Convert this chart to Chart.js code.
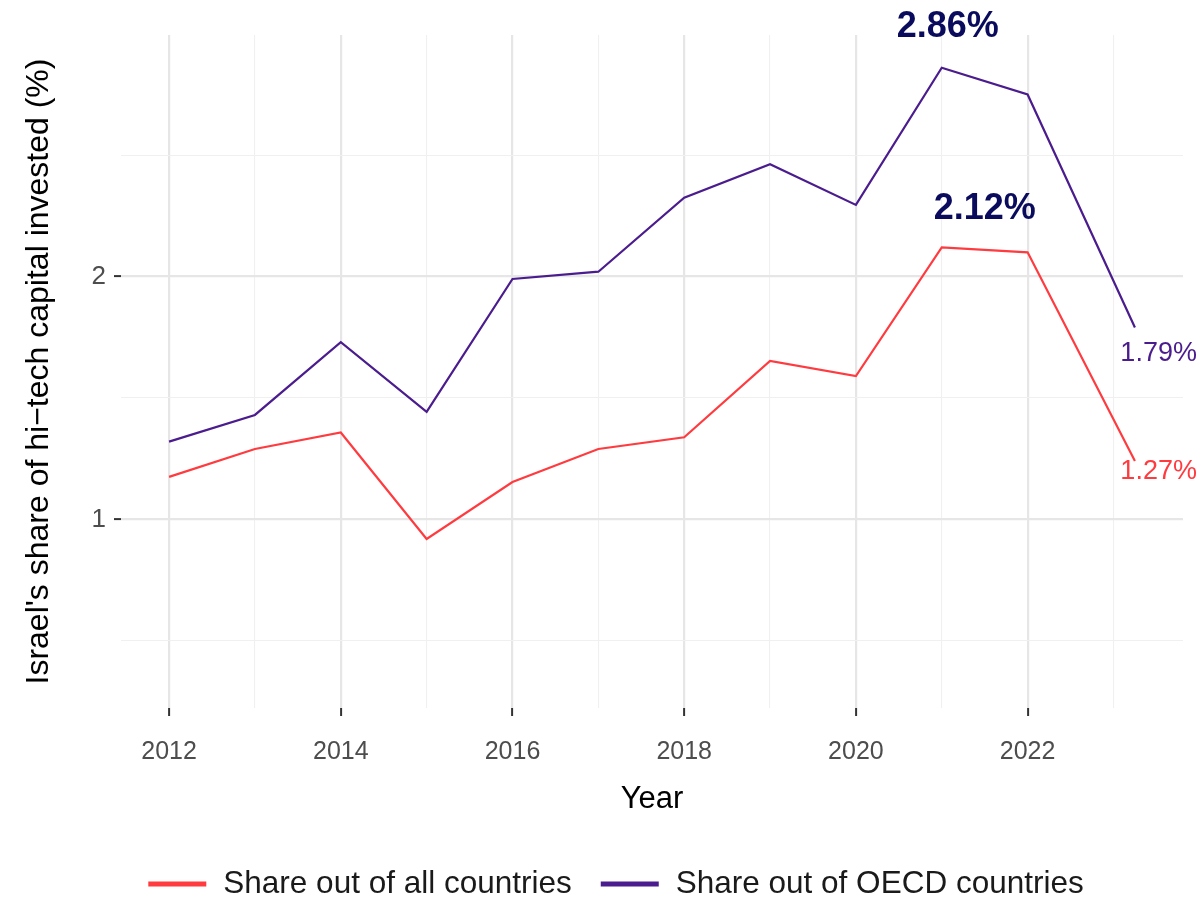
<!DOCTYPE html>
<html>
<head>
<meta charset="utf-8">
<script src="https://cdn.jsdelivr.net/npm/chart.js@4.4.1/dist/chart.umd.min.js"></script>
<style>
html,body{margin:0;padding:0;background:#ffffff;}
#wrap{width:1199px;height:898px;}
</style>
</head>
<body>
<div id="wrap"><canvas id="c" width="1199" height="898"></canvas></div>
<script>
// ---- data ----
const years = [2012, 2013, 2014, 2015, 2016, 2017, 2018, 2019, 2020, 2021, 2022, 2023.25];
const shareAll = [1.175, 1.29, 1.358, 0.919, 1.154, 1.29, 1.338, 1.653, 1.59, 2.12, 2.10, 1.24];
const shareOECD = [1.32, 1.43, 1.73, 1.443, 1.99, 2.02, 2.325, 2.463, 2.295, 2.86, 2.75, 1.79];
const seriesNames = ['Share out of all countries', 'Share out of OECD countries'];
const xTicks = [2012, 2013, 2014, 2015, 2016, 2017, 2018, 2019, 2020, 2021, 2022, 2023];
const xTickLabels = ['2012', '', '2014', '', '2016', '', '2018', '', '2020', '', '2022', ''];
const yTicks = [0.5, 1, 1.5, 2, 2.5];
const yTickLabels = ['', '1', '', '2', ''];
const peakLabels = ['2.12%', '2.86%'];
const endLabels = ['1.27%', '1.79%'];
const xTitle = 'Year';
const yTitle = "Israel's share of hi\u2212tech capital invested (%)";

// ---- style ----
const FONT = "'Liberation Sans', Arial, sans-serif";
const RED = '#ff3b3f';
const PURPLE = '#4b1c8e';
const NAVY = '#0b0b5e';

const annotationPlugin = {
  id: 'annot',
  afterDatasetsDraw(chart) {
    const ctx = chart.ctx;
    const xs = chart.scales.x, ys = chart.scales.y;
    const pk = 9, last = years.length - 1;
    ctx.save();
    ctx.textBaseline = 'middle';
    ctx.textAlign = 'center';
    ctx.fillStyle = NAVY;
    ctx.font = 'bold 36px ' + FONT;
    ctx.fillText(peakLabels[1], xs.getPixelForValue(years[pk]) + 6, ys.getPixelForValue(shareOECD[pk]) - 41);
    const midX = (xs.getPixelForValue(years[pk]) + xs.getPixelForValue(years[pk + 1])) / 2;
    ctx.fillText(peakLabels[0], midX, ys.getPixelForValue(shareAll[pk]) - 38);
    ctx.font = '27px ' + FONT;
    ctx.textAlign = 'right';
    const ex = xs.getPixelForValue(years[last]) + 62;
    ctx.fillStyle = PURPLE;
    ctx.fillText(endLabels[1], ex, ys.getPixelForValue(shareOECD[last]) + 26);
    ctx.fillStyle = RED;
    ctx.fillText(endLabels[0], ex, ys.getPixelForValue(shareAll[last]) + 10);
    ctx.restore();
  }
};

const legendPlugin = {
  id: 'customLegend',
  afterDraw(chart) {
    const ctx = chart.ctx;
    const ds = chart.data.datasets;
    ctx.save();
    ctx.font = '31.5px ' + FONT;
    const lineLen = 58, gapLT = 17, gapItem = 29;
    const widths = ds.map(d => ctx.measureText(d.label).width);
    let total = 0;
    widths.forEach((w, i) => { total += lineLen + gapLT + w + (i < widths.length - 1 ? gapItem : 0); });
    let x = 616 - total / 2;
    const y = 884;
    ctx.textBaseline = 'middle';
    ctx.textAlign = 'left';
    ds.forEach((d, i) => {
      ctx.strokeStyle = d.borderColor;
      ctx.lineWidth = 5;
      ctx.beginPath();
      ctx.moveTo(x, y);
      ctx.lineTo(x + lineLen, y);
      ctx.stroke();
      x += lineLen + gapLT;
      ctx.fillStyle = '#1a1a1a';
      ctx.fillText(d.label, x, y);
      x += widths[i] + gapItem;
    });
    ctx.restore();
  }
};

const chart = new Chart(document.getElementById('c'), {
  type: 'line',
  data: {
    datasets: [
      {
        label: seriesNames[0],
        data: years.map((x, i) => ({ x: x, y: shareAll[i] })),
        borderColor: RED,
        backgroundColor: RED,
        borderWidth: 2.2,
        pointRadius: 0,
        tension: 0
      },
      {
        label: seriesNames[1],
        data: years.map((x, i) => ({ x: x, y: shareOECD[i] })),
        borderColor: PURPLE,
        backgroundColor: PURPLE,
        borderWidth: 2.2,
        pointRadius: 0,
        tension: 0
      }
    ]
  },
  options: {
    responsive: false,
    animation: false,
    devicePixelRatio: 1,
    layout: { padding: { top: 35, right: 16, left: 0, bottom: 43 } },
    plugins: {
      legend: { display: false },
      tooltip: { enabled: false }
    },
    scales: {
      x: {
        type: 'linear',
        min: 2011.44,
        max: 2023.81,
        afterBuildTicks: (s) => { s.ticks = xTicks.map(v => ({ value: v })); },
        afterFit: (s) => { s.height = 147; },
        border: { display: false },
        grid: {
          color: (c) => (xTickLabels[c.index] ? '#e6e6e6' : '#f0f0f0'),
          lineWidth: (c) => (xTickLabels[c.index] ? 2.2 : 1.1),
          tickColor: (c) => (xTickLabels[c.index] ? '#333333' : 'rgba(0,0,0,0)'),
          tickWidth: 2,
          tickLength: 8,
          drawTicks: true
        },
        ticks: {
          autoSkip: false,
          maxRotation: 0,
          padding: 21,
          color: '#4d4d4d',
          font: { family: FONT, size: 25 },
          callback: (v, i) => xTickLabels[i]
        },
        title: {
          display: true,
          text: xTitle,
          color: '#000000',
          font: { family: FONT, size: 31 },
          padding: { top: 0, bottom: 37 }
        }
      },
      y: {
        type: 'linear',
        min: 0.223,
        max: 2.995,
        afterBuildTicks: (s) => { s.ticks = yTicks.map(v => ({ value: v })); },
        afterFit: (s) => { s.width = 121; },
        border: { display: false },
        grid: {
          color: (c) => (yTickLabels[c.index] ? '#e6e6e6' : '#f0f0f0'),
          lineWidth: (c) => (yTickLabels[c.index] ? 2.2 : 1.1),
          tickColor: (c) => (yTickLabels[c.index] ? '#333333' : 'rgba(0,0,0,0)'),
          tickWidth: 2,
          tickLength: 7,
          drawTicks: true
        },
        ticks: {
          autoSkip: false,
          padding: 8,
          color: '#4d4d4d',
          font: { family: FONT, size: 26 },
          callback: (v, i) => yTickLabels[i]
        },
        title: {
          display: true,
          text: yTitle,
          color: '#000000',
          font: { family: FONT, size: 32 },
          padding: { top: 20, bottom: 0 }
        }
      }
    }
  },
  plugins: [annotationPlugin, legendPlugin]
});
</script>
</body>
</html>
